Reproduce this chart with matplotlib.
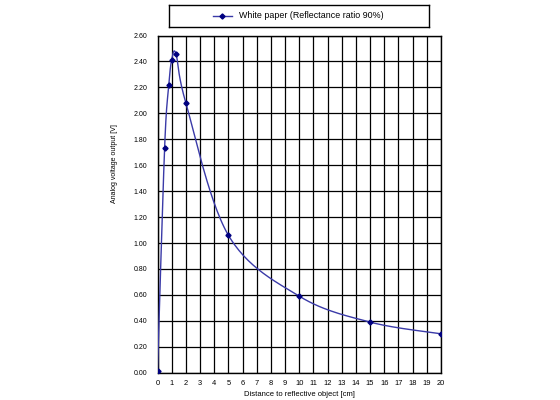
import numpy as np
import matplotlib
matplotlib.use("Agg")
import matplotlib.pyplot as plt
from matplotlib.lines import Line2D

# measured points
dist_cm = [0, 0.5, 0.8, 1.0, 1.3, 2, 5, 10, 15, 20]
volt_v = [0.01, 1.73, 2.22, 2.41, 2.46, 2.08, 1.06, 0.59, 0.39, 0.30]
series_name = "White paper (Reflectance ratio 90%)"
x_ticks = list(range(0, 21))
y_ticks = [i * 0.2 for i in range(14)]


def smooth(x, y, n=30):
    # Excel-like smoothed line (Catmull-Rom through the points)
    x = np.asarray(x, float)
    y = np.asarray(y, float)
    px = np.concatenate([[x[0]], x, [x[-1]]])
    py = np.concatenate([[y[0]], y, [y[-1]]])
    xs, ys = [], []
    t = np.linspace(0, 1, n)
    for i in range(1, len(px) - 2):
        p0 = np.array([px[i], py[i]])
        p3 = np.array([px[i + 1], py[i + 1]])
        c1 = p0 + (np.array([px[i + 1], py[i + 1]]) - np.array([px[i - 1], py[i - 1]])) / 6
        c2 = p3 - (np.array([px[i + 2], py[i + 2]]) - np.array([px[i], py[i]])) / 6
        b = ((1 - t) ** 3)[:, None] * p0 + (3 * (1 - t) ** 2 * t)[:, None] * c1 \
            + (3 * (1 - t) * t ** 2)[:, None] * c2 + (t ** 3)[:, None] * p3
        xs.extend(b[:, 0])
        ys.extend(b[:, 1])
    return xs, ys


plt.rcParams['font.family'] = ['Liberation Sans', 'DejaVu Sans']
fig = plt.figure(figsize=(5.6, 4.0), dpi=100)
ax = fig.add_axes([157.5 / 560, 1 - 372.7 / 400, (441 - 157.5) / 560, (372.7 - 35.5) / 400])

sx, sy = smooth(dist_cm, volt_v)
ax.plot(sx, sy, color='#3a3aa8', lw=1.0, zorder=3)
ax.plot(dist_cm, volt_v, ls='none', marker='D', ms=2.6, color='#000080', zorder=4)

ax.set_xlim(0, 20)
ax.set_ylim(0, 2.6)
ax.set_xticks(x_ticks)
ax.set_xticklabels([str(v) for v in x_ticks], fontsize=5.4)
ax.set_yticks(y_ticks)
ax.set_yticklabels(['%.2f' % v for v in y_ticks], fontsize=5)
ax.tick_params(axis='x', length=0, pad=5)
ax.tick_params(axis='y', length=0, pad=7.5)
ax.grid(True, color='black', lw=0.9)
ax.set_axisbelow(True)
for s in ax.spines.values():
    s.set_color('black')
    s.set_linewidth(1.0)

ax.set_xlabel('Distance to reflective object [cm]', fontsize=5.5, labelpad=3)
ax.set_ylabel('Analog voltage output [V]', fontsize=5, labelpad=8)
ax.yaxis.set_label_coords(-0.14, 0.62)

# legend box above the plot
lax = fig.add_axes([169 / 560, 1 - 26.7 / 400, (429.3 - 169) / 560, 22 / 400])
lax.set_xlim(0, 1)
lax.set_ylim(0, 1)
lax.set_xticks([])
lax.set_yticks([])
for s in lax.spines.values():
    s.set_linewidth(1.0)
lax.add_line(Line2D([0.168, 0.242], [0.5, 0.5], color='#3a3aa8', lw=1.0))
lax.plot([0.205], [0.5], marker='D', ms=2.6, color='#000080')
lax.text(0.268, 0.5, series_name, fontsize=6.4, va='center', ha='left')

fig.savefig('out.png', dpi=100)
